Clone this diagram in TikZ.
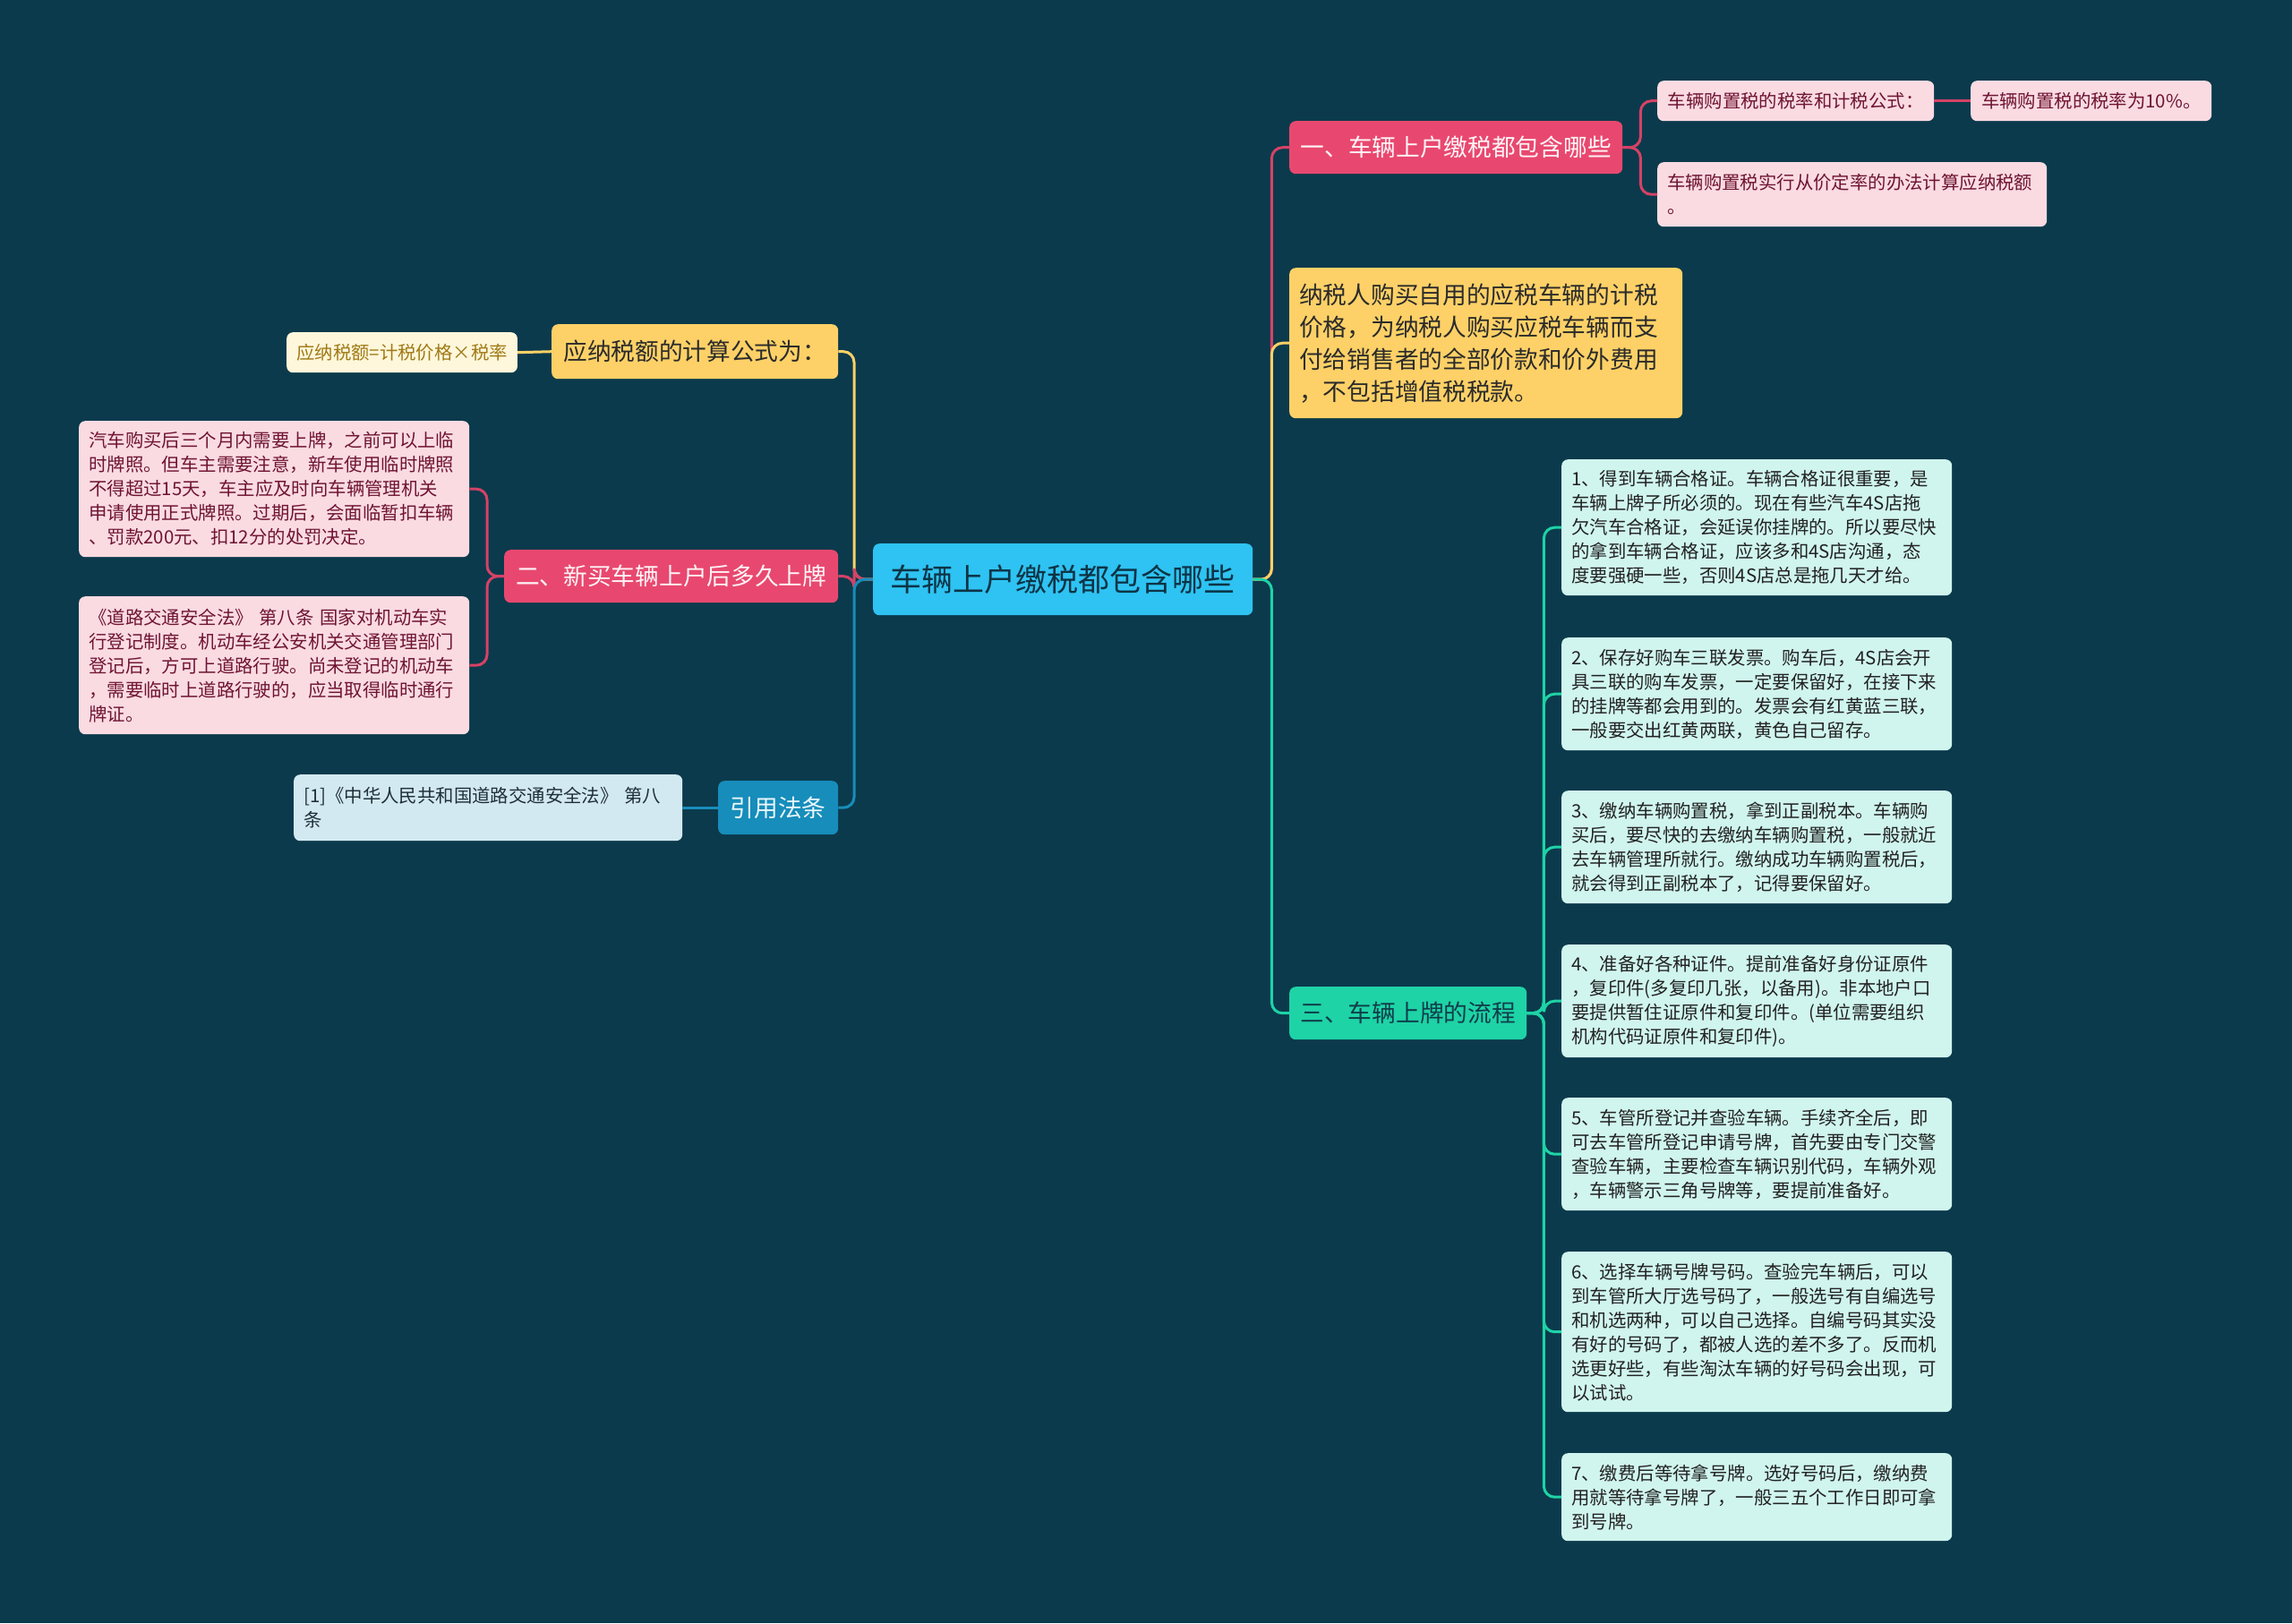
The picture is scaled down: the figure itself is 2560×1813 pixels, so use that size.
\documentclass[tikz,border=0pt]{standalone}
\usepackage{fontspec}
\setmainfont{Noto Sans CJK SC}
\definecolor{bg}{HTML}{0B3A4C}
\definecolor{rootfill}{HTML}{2EC3F2}
\definecolor{roottext}{HTML}{0D3446}
\definecolor{pinkfill}{HTML}{E8486F}
\definecolor{pinktext}{HTML}{FFF3F6}
\definecolor{lpinkfill}{HTML}{FADBE2}
\definecolor{lpinktext}{HTML}{6F1433}
\definecolor{yelfill}{HTML}{FDD167}
\definecolor{yeltext}{HTML}{2B2B2B}
\definecolor{creamfill}{HTML}{FFF7DB}
\definecolor{creamtext}{HTML}{A07A16}
\definecolor{greenfill}{HTML}{1ED3A6}
\definecolor{greentext}{HTML}{0F3D4A}
\definecolor{mintfill}{HTML}{D0F5EE}
\definecolor{minttext}{HTML}{222222}
\definecolor{bluefill}{HTML}{178DBB}
\definecolor{bluetext}{HTML}{EAF7FC}
\definecolor{lbluefill}{HTML}{D3E9F1}
\definecolor{lbluetext}{HTML}{1F2F38}
\tikzset{
  box/.style={rounded corners=7pt, inner xsep=11pt, inner ysep=0pt, anchor=north west, align=left},
  rootbox/.style={box, fill=rootfill, text=roottext, align=center, font=\fontsize{35}{42}\selectfont},
  lvlbox/.style={box, align=center, font=\fontsize{26.7}{36}\selectfont},
  detbox/.style={box, font=\fontsize{20.4}{27}\selectfont},
  pinkbox/.style={lvlbox, fill=pinkfill, text=pinktext},
  yelbox/.style={lvlbox, fill=yelfill, text=yeltext},
  greenbox/.style={lvlbox, fill=greenfill, text=greentext},
  bluebox/.style={lvlbox, fill=bluefill, text=bluetext},
  lpinkbox/.style={detbox, fill=lpinkfill, text=lpinktext},
  creambox/.style={detbox, fill=creamfill, text=creamtext},
  mintbox/.style={detbox, fill=mintfill, text=minttext},
  lbluebox/.style={detbox, fill=lbluefill, text=lbluetext},
  conn/.style={line width=3pt, rounded corners=12pt},
  pinkline/.style={conn, draw=pinkfill!92!black},
  yelline/.style={conn, draw=yelfill},
  greenline/.style={conn, draw=greenfill},
  blueline/.style={conn, draw=bluefill},
}
\begin{document}
\begin{tikzpicture}[x=1pt,y=-1pt]
\fill[bg] (0,0) rectangle (2560,1813);
\useasboundingbox (0,0) rectangle (2560,1813);

% root
\node[rootbox, minimum width=424pt, minimum height=80pt] (root) at (975,607) {车辆上户缴税都包含哪些};

% right branch 1
\node[pinkbox, minimum width=372pt, minimum height=59pt] (b1) at (1440,135) {一、车辆上户缴税都包含哪些};
\node[lpinkbox, minimum width=309pt, minimum height=45pt] (b1a) at (1851,90) {车辆购置税的税率和计税公式：};
\node[lpinkbox, minimum width=269pt, minimum height=45pt, align=center] (b1a1) at (2201,90) {车辆购置税的税率为10\%。};
\node[lpinkbox, text width=413pt, minimum height=72pt] (b1b) at (1851,181) {车辆购置税实行从价定率的办法计算应纳税额\\。};

% right branch 2 (yellow)
\node[yelbox, align=left, text width=417pt, minimum height=168pt] (b2) at (1440,299) {纳税人购买自用的应税车辆的计税\\价格，为纳税人购买应税车辆而支\\付给销售者的全部价款和价外费用\\，不包括增值税税款。};

% right branch 3 (green)
\node[greenbox, minimum width=265pt, minimum height=59pt] (b3) at (1440,1102) {三、车辆上牌的流程};
\node[mintbox, text width=414pt, minimum height=152pt] (c1) at (1744,513) {1、得到车辆合格证。车辆合格证很重要，是\\车辆上牌子所必须的。现在有些汽车4S店拖\\欠汽车合格证，会延误你挂牌的。所以要尽快\\的拿到车辆合格证，应该多和4S店沟通，态\\度要强硬一些，否则4S店总是拖几天才给。};
\node[mintbox, text width=414pt, minimum height=126pt] (c2) at (1744,712) {2、保存好购车三联发票。购车后，4S店会开\\具三联的购车发票，一定要保留好，在接下来\\的挂牌等都会用到的。发票会有红黄蓝三联，\\一般要交出红黄两联，黄色自己留存。};
\node[mintbox, text width=414pt, minimum height=126pt] (c3) at (1744,883) {3、缴纳车辆购置税，拿到正副税本。车辆购\\买后，要尽快的去缴纳车辆购置税，一般就近\\去车辆管理所就行。缴纳成功车辆购置税后，\\就会得到正副税本了，记得要保留好。};
\node[mintbox, text width=414pt, minimum height=126pt] (c4) at (1744,1055) {4、准备好各种证件。提前准备好身份证原件\\，复印件(多复印几张，以备用)。非本地户口\\要提供暂住证原件和复印件。(单位需要组织\\机构代码证原件和复印件)。};
\node[mintbox, text width=414pt, minimum height=126pt] (c5) at (1744,1226) {5、车管所登记并查验车辆。手续齐全后，即\\可去车管所登记申请号牌，首先要由专门交警\\查验车辆，主要检查车辆识别代码，车辆外观\\，车辆警示三角号牌等，要提前准备好。};
\node[mintbox, text width=414pt, minimum height=179pt] (c6) at (1744,1398) {6、选择车辆号牌号码。查验完车辆后，可以\\到车管所大厅选号码了，一般选号有自编选号\\和机选两种，可以自己选择。自编号码其实没\\有好的号码了，都被人选的差不多了。反而机\\选更好些，有些淘汰车辆的好号码会出现，可\\以试试。};
\node[mintbox, text width=414pt, minimum height=98pt] (c7) at (1744,1623) {7、缴费后等待拿号牌。选好号码后，缴纳费\\用就等待拿号牌了，一般三五个工作日即可拿\\到号牌。};

% left branch 1 (yellow)
\node[yelbox, minimum width=320pt, minimum height=61pt] (l1) at (616,362) {应纳税额的计算公式为：};
\node[creambox, minimum width=256pt, minimum height=45pt, align=center] (l1a) at (320,371) {应纳税额=计税价格×税率};

% left branch 2 (pink)
\node[pinkbox, minimum width=373pt, minimum height=59pt] (l2) at (563,614) {二、新买车辆上户后多久上牌};
\node[lpinkbox, text width=414pt, minimum height=152pt] (l2a) at (88,470) {汽车购买后三个月内需要上牌，之前可以上临\\时牌照。但车主需要注意，新车使用临时牌照\\不得超过15天，车主应及时向车辆管理机关\\申请使用正式牌照。过期后，会面临暂扣车辆\\、罚款200元、扣12分的处罚决定。};
\node[lpinkbox, text width=414pt, minimum height=154pt] (l2b) at (88,666) {《道路交通安全法》 第八条 国家对机动车实\\行登记制度。机动车经公安机关交通管理部门\\登记后，方可上道路行驶。尚未登记的机动车\\，需要临时上道路行驶的，应当取得临时通行\\牌证。};

% left branch 3 (blue)
\node[bluebox, minimum width=134pt, minimum height=60pt] (l3) at (802,872) {引用法条};
\node[lbluebox, text width=412pt, minimum height=74pt] (l3a) at (328,865) {[1]《中华人民共和国道路交通安全法》 第八\\条};

% connectors right
\draw[pinkline] (root.east) -- ++(21,0) |- (b1.west);
\draw[yelline] (root.east) -- ++(21,0) |- (b2.west);
\draw[greenline] (root.east) -- ++(21,0) |- (b3.west);
\draw[pinkline] (b1.east) -- ++(20,0) |- (b1a.west);
\draw[pinkline] (b1.east) -- ++(20,0) |- (b1b.west);
\draw[pinkline] (b1a.east) -- (b1a1.west);
\foreach \c in {c1,c2,c3,c4,c5,c6,c7}
  \draw[greenline] (b3.east) -- ++(19,0) |- (\c.west);

% connectors left
\draw[yelline] (root.west) -- ++(-21,0) |- (l1.east);
\draw[pinkline] (root.west) -- ++(-21,0) |- (l2.east);
\draw[blueline] (root.west) -- ++(-21,0) |- (l3.east);
\draw[yelline] (l1.west) -- (l1a.east);
\draw[pinkline] (l2.west) -- ++(-19,0) |- (l2a.east);
\draw[pinkline] (l2.west) -- ++(-19,0) |- (l2b.east);
\draw[blueline] (l3.west) -- (l3a.east);

% redraw boxes on top of connectors
\end{tikzpicture}
\end{document}
